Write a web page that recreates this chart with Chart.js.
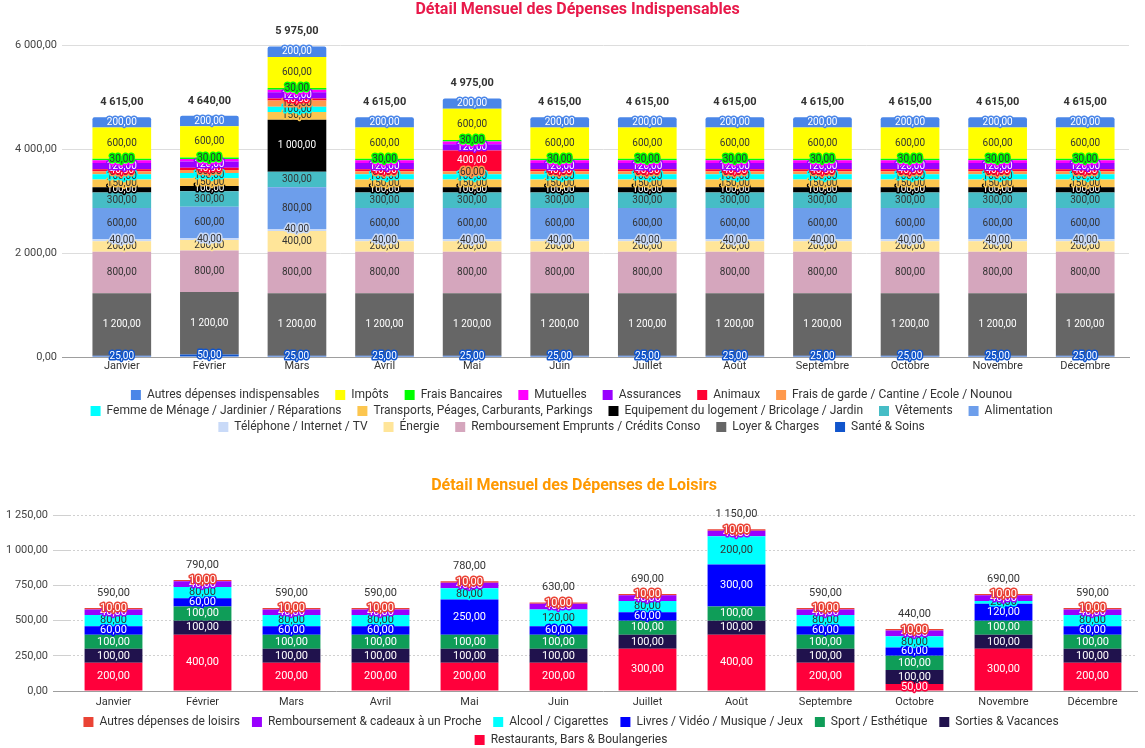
<!DOCTYPE html>
<html lang="fr">
<head>
<meta charset="utf-8">
<title>Détail Mensuel des Dépenses</title>
<script src="https://cdn.jsdelivr.net/npm/chart.js@4.4.1/dist/chart.umd.min.js"></script>
<style>
  html, body { margin: 0; padding: 0; background: #fff; overflow: hidden; }
  #bloc1 { position: absolute; left: 0; top: 0; width: 1145px; height: 443px; }
  #bloc2 { position: absolute; left: 0; top: 455px; width: 1145px; height: 301px; }
</style>
</head>
<body>
<div id="bloc1"><canvas id="chart1" width="1145" height="443"></canvas></div>
<div id="bloc2"><canvas id="chart2" width="1145" height="301"></canvas></div>
<script>
const mois = ["Janvier", "Février", "Mars", "Avril", "Mai", "Juin", "Juillet", "Août", "Septembre", "Octobre", "Novembre", "Décembre"];

// dépenses indispensables (du bas vers le haut de la pile)
const santeSoins   = [25, 50, 25, 25, 25, 25, 25, 25, 25, 25, 25, 25];
const loyer        = [1200, 1200, 1200, 1200, 1200, 1200, 1200, 1200, 1200, 1200, 1200, 1200];
const emprunts     = [800, 800, 800, 800, 800, 800, 800, 800, 800, 800, 800, 800];
const energie      = [200, 200, 400, 200, 200, 200, 200, 200, 200, 200, 200, 200];
const telephone    = [40, 40, 40, 40, 40, 40, 40, 40, 40, 40, 40, 40];
const alimentation = [600, 600, 800, 600, 600, 600, 600, 600, 600, 600, 600, 600];
const vetements    = [300, 300, 300, 300, 300, 300, 300, 300, 300, 300, 300, 300];
const equipement   = [100, 100, 1000, 100, 100, 100, 100, 100, 100, 100, 100, 100];
const transports   = [150, 150, 150, 150, 150, 150, 150, 150, 150, 150, 150, 150];
const menage       = [100, 100, 100, 100, 100, 100, 100, 100, 100, 100, 100, 100];
const garde        = [60, 60, 120, 60, 60, 60, 60, 60, 60, 60, 60, 60];
const animaux      = [40, 40, 40, 40, 400, 40, 40, 40, 40, 40, 40, 40];
const assurances   = [120, 120, 120, 120, 120, 120, 120, 120, 120, 120, 120, 120];
const mutuelles    = [50, 50, 50, 50, 50, 50, 50, 50, 50, 50, 50, 50];
const bancaires    = [30, 30, 30, 30, 30, 30, 30, 30, 30, 30, 30, 30];
const impots       = [600, 600, 600, 600, 600, 600, 600, 600, 600, 600, 600, 600];
const autresIndisp = [200, 200, 200, 200, 200, 200, 200, 200, 200, 200, 200, 200];

// dépenses de loisirs
const restaurants  = [200, 400, 200, 200, 200, 200, 300, 400, 200, 50, 300, 200];
const sorties      = [100, 100, 100, 100, 100, 100, 100, 100, 100, 100, 100, 100];
const sport        = [100, 100, 100, 100, 100, 100, 100, 100, 100, 100, 100, 100];
const livres       = [60, 60, 60, 60, 250, 60, 60, 300, 60, 60, 120, 60];
const alcool       = [80, 80, 80, 80, 80, 120, 80, 200, 80, 80, 20, 80];
const cadeaux      = [40, 40, 40, 40, 40, 40, 40, 40, 40, 40, 40, 40];
const autresLoisir = [10, 10, 10, 10, 10, 10, 10, 10, 10, 10, 10, 10];

const ticksIndisp = [0, 2000, 4000, 6000];
const ticksLoisir = [0, 250, 500, 750, 1000, 1250];

Chart.defaults.font.family = 'Roboto, "Liberation Sans", Arial, sans-serif';
Chart.defaults.animation = false;

function fmt(v) {
  const p = Math.abs(v).toFixed(2).split('.');
  const ent = p[0].replace(/\B(?=(\d{3})+(?!\d))/g, '\u00a0');
  return (v < 0 ? '-' : '') + ent + ',' + p[1];
}

function couleurTexte(hex) {
  const r = parseInt(hex.slice(1, 3), 16), g = parseInt(hex.slice(3, 5), 16), b = parseInt(hex.slice(5, 7), 16);
  return (0.299 * r + 0.587 * g + 0.114 * b) / 255 > 0.55 ? '#333333' : '#ffffff';
}

// étiquettes des segments + totaux au-dessus des barres
const etiquettes = {
  id: 'etiquettes',
  afterDatasetsDraw(chart, args, opts) {
    const ctx = chart.ctx;
    const hauts = chart.data.labels.map(() => Infinity);
    ctx.save();
    ctx.textAlign = 'center';
    ctx.textBaseline = 'middle';
    ctx.lineJoin = 'round';
    chart.data.datasets.forEach((ds, di) => {
      if (!chart.isDatasetVisible(di)) return;
      chart.getDatasetMeta(di).data.forEach((bar, i) => {
        const v = ds.data[i];
        hauts[i] = Math.min(hauts[i], bar.y, bar.base);
        if (!v) return;
        const y = (bar.y + bar.base) / 2;
        ctx.font = opts.police;
        ctx.lineWidth = 3;
        ctx.strokeStyle = ds.backgroundColor;
        ctx.strokeText(fmt(v), bar.x, y);
        ctx.fillStyle = couleurTexte(ds.backgroundColor);
        ctx.fillText(fmt(v), bar.x, y);
      });
    });
    ctx.font = opts.policeTotal;
    ctx.fillStyle = '#333333';
    chart.data.labels.forEach((_, i) => {
      let somme = 0;
      chart.data.datasets.forEach((ds, di) => { if (chart.isDatasetVisible(di)) somme += ds.data[i]; });
      const x = chart.getDatasetMeta(0).data[i].x;
      ctx.fillText(fmt(somme), x, hauts[i] - 15);
    });
    ctx.restore();
  }
};

function serie(label, data, couleur, extra) {
  return Object.assign({ label: label, data: data, backgroundColor: couleur, borderWidth: 0 }, extra || {});
}

function legendeEspacee(nb) {
  const esp = '\u00a0'.repeat(nb);
  return chart => Chart.defaults.plugins.legend.labels.generateLabels(chart)
    .map(l => Object.assign(l, { text: l.text + esp }));
}

new Chart("chart1", {
  type: "bar",
  data: {
    labels: mois,
    datasets: [
      serie("Santé & Soins", santeSoins, "#1155cc"),
      serie("Loyer & Charges", loyer, "#666666"),
      serie("Remboursement Emprunts / Crédits Conso", emprunts, "#d5a6bd"),
      serie("Énergie", energie, "#ffe599"),
      serie("Téléphone / Internet / TV", telephone, "#c9daf8"),
      serie("Alimentation", alimentation, "#6d9eeb"),
      serie("Vêtements", vetements, "#46bdc6"),
      serie("Equipement du logement / Bricolage / Jardin", equipement, "#000000"),
      serie("Transports, Péages, Carburants, Parkings", transports, "#fcc64f"),
      serie("Femme de Ménage / Jardinier / Réparations", menage, "#00ffff"),
      serie("Frais de garde / Cantine / Ecole / Nounou", garde, "#ff994d"),
      serie("Animaux", animaux, "#ff0033"),
      serie("Assurances", assurances, "#9900ff"),
      serie("Mutuelles", mutuelles, "#ff00ff"),
      serie("Frais Bancaires", bancaires, "#00ff00"),
      serie("Impôts", impots, "#ffff00"),
      serie("Autres dépenses indispensables", autresIndisp, "#4a86e8", { borderRadius: 2 })
    ]
  },
  options: {
    responsive: false,
    categoryPercentage: 1,
    barPercentage: 0.67,
    layout: { padding: { left: 10, right: 0, top: 0, bottom: 0 } },
    scales: {
      x: {
        stacked: true,
        grid: { display: false, drawTicks: false },
        border: { display: true, color: "#9e9e9e" },
        ticks: { color: "#333", font: { size: 11 }, padding: 3 },
        afterFit(s) { s.height = 28; }
      },
      y: {
        stacked: true,
        min: 0,
        max: 6000,
        afterBuildTicks(s) { s.ticks = ticksIndisp.map(v => ({ value: v })); },
        ticks: { color: "#444", font: { size: 11 }, padding: 5, callback: v => fmt(v) },
        grid: { color: c => (c.tick && c.tick.value === 0 ? "#9e9e9e" : "#dddddd"), tickLength: 16 },
        border: { display: false },
        afterFit(s) { s.width = 68; }
      },
      droite: {
        type: "linear",
        position: "right",
        grid: { display: false, drawTicks: false },
        ticks: { display: false },
        border: { display: false },
        afterFit(s) { s.width = 16; }
      }
    },
    plugins: {
      title: {
        display: true,
        text: "Détail Mensuel des Dépenses Indispensables",
        color: "#e8194a",
        font: { size: 16, weight: "bold" },
        padding: { top: 0, bottom: 26 }
      },
      legend: {
        position: "bottom",
        reverse: true,
        labels: { boxWidth: 10, boxHeight: 10, padding: 4, color: "#333", font: { size: 12 }, generateLabels: legendeEspacee(4) }
      },
      tooltip: { enabled: false },
      etiquettes: { police: "10px Roboto, sans-serif", policeTotal: "bold 11px Roboto, sans-serif" }
    }
  },
  plugins: [etiquettes]
});

new Chart("chart2", {
  type: "bar",
  data: {
    labels: mois,
    datasets: [
      serie("Restaurants, Bars & Boulangeries", restaurants, "#ff003b"),
      serie("Sorties & Vacances", sorties, "#20124d"),
      serie("Sport / Esthétique", sport, "#0f9d58"),
      serie("Livres / Vidéo / Musique / Jeux", livres, "#0000ff"),
      serie("Alcool / Cigarettes", alcool, "#00ffff"),
      serie("Remboursement & cadeaux à un Proche", cadeaux, "#9900ff"),
      serie("Autres dépenses de loisirs", autresLoisir, "#ea4335")
    ]
  },
  options: {
    responsive: false,
    categoryPercentage: 1,
    barPercentage: 0.65,
    layout: { padding: { left: 3, right: 0, top: 21, bottom: 0 } },
    scales: {
      x: {
        stacked: true,
        grid: { display: false, drawTicks: false },
        border: { display: true, color: "#9e9e9e" },
        ticks: { color: "#333", font: { size: 11 }, padding: 5 },
        afterFit(s) { s.height = 19; }
      },
      y: {
        stacked: true,
        min: 0,
        max: 1250,
        afterBuildTicks(s) { s.ticks = ticksLoisir.map(v => ({ value: v })); },
        ticks: { color: "#444", font: { size: 11 }, padding: 5, callback: v => fmt(v) },
        grid: { color: c => (c.tick && c.tick.value === 0 ? "#9e9e9e" : "#d0d0d0"), tickLength: 16, borderDash: [2, 2] },
        border: { display: false, dash: [2, 2] },
        afterFit(s) { s.width = 66; }
      },
      droite: {
        type: "linear",
        position: "right",
        grid: { display: false, drawTicks: false },
        ticks: { display: false },
        border: { display: false },
        afterFit(s) { s.width = 8; }
      }
    },
    plugins: {
      title: {
        display: true,
        text: "Détail Mensuel des Dépenses de Loisirs",
        color: "#ff9900",
        font: { size: 16, weight: "bold" },
        padding: { top: 0, bottom: 20 }
      },
      legend: {
        position: "bottom",
        reverse: true,
        labels: { boxWidth: 10, boxHeight: 10, padding: 6, color: "#333", font: { size: 12 }, generateLabels: legendeEspacee(2) }
      },
      tooltip: { enabled: false },
      etiquettes: { police: "11px Roboto, sans-serif", policeTotal: "11px Roboto, sans-serif" }
    }
  },
  plugins: [etiquettes]
});
</script>
</body>
</html>
